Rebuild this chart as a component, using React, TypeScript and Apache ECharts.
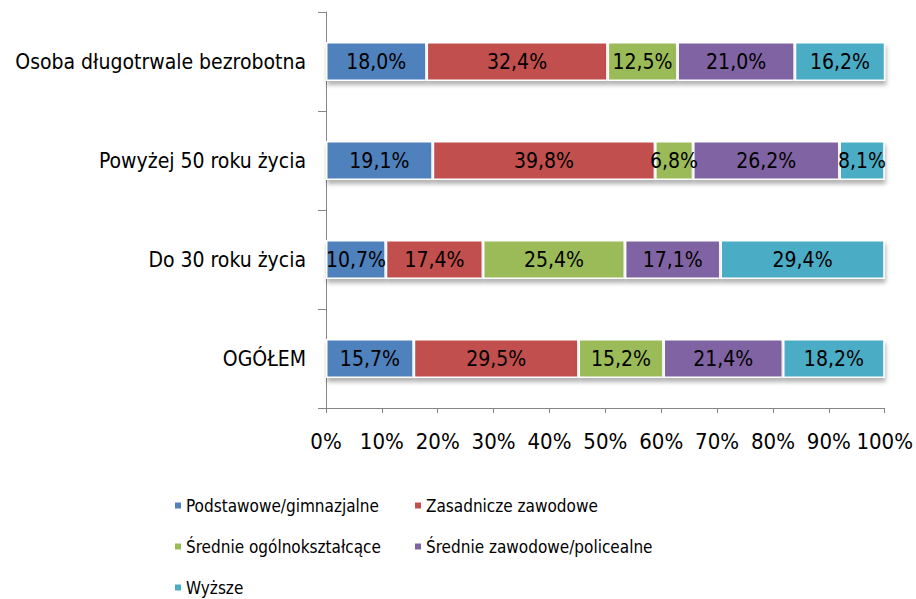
import React, { useEffect, useRef } from "react";
import * as echarts from "echarts";

const categories = ["OGÓŁEM", "Do 30 roku życia", "Powyżej 50 roku życia", "Osoba długotrwale bezrobotna"];
const seriesNames = [
  "Podstawowe/gimnazjalne",
  "Zasadnicze zawodowe",
  "Średnie ogólnokształcące",
  "Średnie zawodowe/policealne",
  "Wyższe",
];
const podstawowe = [15.7, 10.7, 19.1, 18.0];
const zasadnicze = [29.5, 17.4, 39.8, 32.4];
const srednieOgolne = [15.2, 25.4, 6.8, 12.5];
const srednieZawodowe = [21.4, 17.1, 26.2, 21.0];
const wyzsze = [18.2, 29.4, 8.1, 16.2];
const xTicks = [0, 10, 20, 30, 40, 50, 60, 70, 80, 90, 100];
const colors = ["#4F81BD", "#C0504D", "#9BBB59", "#8064A2", "#4BACC6"];

const FONT = "'DejaVu Sans Condensed', 'DejaVu Sans', sans-serif";

export default function App() {
  const ref = useRef<HTMLDivElement>(null);
  useEffect(() => {
    if (!ref.current) return;
    const chart = echarts.init(ref.current, null, { renderer: "svg" });
    const values = [podstawowe, zasadnicze, srednieOgolne, srednieZawodowe, wyzsze];
    const legendPos = [
      { left: 173, top: 497 },
      { left: 413, top: 497 },
      { left: 173, top: 538 },
      { left: 413, top: 538 },
      { left: 173, top: 579 },
    ];
    chart.setOption({
      animation: false,
      textStyle: { fontFamily: FONT },
      grid: { left: 326, right: 30, top: 12, bottom: 191, containLabel: false },
      xAxis: {
        type: "value",
        min: xTicks[0],
        max: xTicks[xTicks.length - 1],
        interval: 10,
        splitLine: { show: false },
        axisLine: { show: true, lineStyle: { color: "#868686", width: 1 } },
        axisTick: { show: true, length: 5, lineStyle: { color: "#868686" } },
        axisLabel: {
          formatter: (v: number) => v + "%",
          color: "#000",
          fontFamily: FONT,
          fontSize: 22,
          margin: 22,
        },
      },
      yAxis: {
        type: "category",
        data: categories,
        axisLine: { show: true, lineStyle: { color: "#868686", width: 1 } },
        axisTick: { show: true, length: 8, inside: false, lineStyle: { color: "#868686" } },
        axisLabel: { color: "#000", fontFamily: FONT, fontSize: 21, margin: 20 },
      },
      legend: legendPos.map((p, i) => ({
        data: [seriesNames[i]],
        left: p.left,
        top: p.top,
        padding: 0,
        itemWidth: 8,
        itemHeight: 8,
        icon: "rect",
        itemGap: 5,
        textStyle: { color: "#000", fontFamily: FONT, fontSize: 17, padding: [0, 0, 0, -1] },
      })),
      series: seriesNames.map((name, i) => ({
        name,
        type: "bar",
        stack: "total",
        barWidth: 39,
        data: values[i],
        itemStyle: {
          color: colors[i],
          borderColor: "#fff",
          borderWidth: 1.5,
          shadowColor: "rgba(0,0,0,0.3)",
          shadowBlur: 4,
          shadowOffsetY: 4,
          shadowOffsetX: 1,
        },
        label: {
          show: true,
          position: "inside",
          color: "#000",
          fontFamily: FONT,
          fontSize: 21,
          formatter: (p: any) => p.value.toFixed(1).replace(".", ",") + "%",
        },
      })),
    });
    return () => chart.dispose();
  }, []);
  return <div ref={ref} style={{ width: 916, height: 599, position: "absolute", left: 0, top: 0 }} />;
}
